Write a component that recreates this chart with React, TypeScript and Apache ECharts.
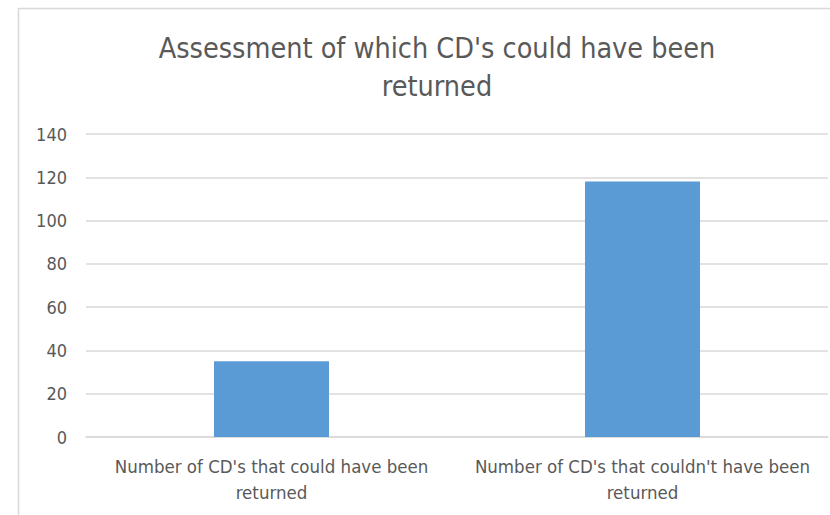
import React, { useEffect, useRef } from "react";
import * as echarts from "echarts";

const titleLines = ["Assessment of which CD's could have been", "returned"];
const categories = [
  "Number of CD's that could have been returned",
  "Number of CD's that couldn't have been returned",
];
const values = [35, 118];
const yTicks = { min: 0, max: 140, interval: 20 };

const FONT = "'DejaVu Sans Condensed', sans-serif";
const TEXT = "#595959";
const GRID = "#d9d9d9";

export default function App() {
  const ref = useRef<HTMLDivElement>(null);
  useEffect(() => {
    if (!ref.current) return;
    const chart = echarts.init(ref.current, undefined, { renderer: "svg" });
    chart.setOption({
      animation: false,
      backgroundColor: "#ffffff",
      title: {
        text: titleLines.join("\n"),
        left: 432,
        top: 24,
        textAlign: "center",
        textStyle: {
          fontFamily: FONT,
          fontSize: 28.5,
          fontWeight: "normal",
          color: TEXT,
          lineHeight: 38,
        },
      },
      graphic: [
        {
          type: "rect",
          shape: { x: 18.5, y: 8.5, width: 900, height: 600 },
          style: { fill: "none", stroke: GRID, lineWidth: 1.5 },
          silent: true,
        },
      ],
      grid: { left: 86, right: 2, top: 134, bottom: 78 },
      xAxis: {
        type: "category",
        data: categories,
        axisLine: { show: true, lineStyle: { color: GRID, width: 1.5 } },
        axisTick: { show: false },
        axisLabel: {
          color: TEXT,
          fontFamily: FONT,
          fontSize: 18.5,
          lineHeight: 26,
          margin: 16,
          interval: 0,
          formatter: (v: string) => {
            const i = v.lastIndexOf(" ");
            return v.slice(0, i) + "\n" + v.slice(i + 1);
          },
        },
      },
      yAxis: {
        type: "value",
        min: yTicks.min,
        max: yTicks.max,
        interval: yTicks.interval,
        axisLine: { show: false },
        axisTick: { show: false },
        splitLine: { lineStyle: { color: GRID, width: 1.5 } },
        axisLabel: {
          color: TEXT,
          fontFamily: FONT,
          fontSize: 18,
          margin: 19,
        },
      },
      series: [
        {
          type: "bar",
          data: values,
          barWidth: "31%",
          itemStyle: { color: "#5b9bd5" },
        },
      ],
    });
    return () => chart.dispose();
  }, []);
  return (
    <div
      ref={ref}
      style={{ position: "fixed", left: 0, top: 0, width: 830, height: 515 }}
    />
  );
}
